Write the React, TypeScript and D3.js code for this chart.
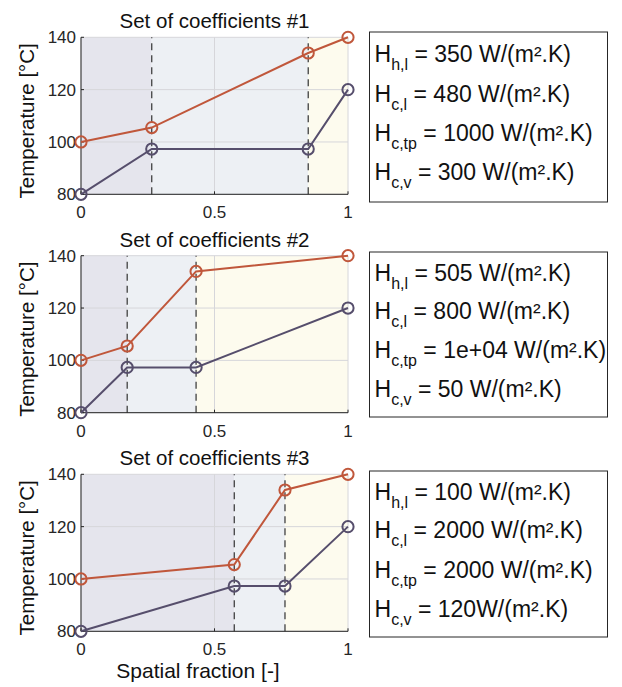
import React from "react";
import * as d3 from "d3";

// ---------- data ----------
const panelTitles = ["Set of coefficients #1", "Set of coefficients #2", "Set of coefficients #3"];
const xTicks = [0, 0.5, 1];
const yTicks = [80, 100, 120, 140];

// phase boundaries (spatial fraction) for each set
const boundaries1 = [0.265, 0.851];
const boundaries2 = [0.173, 0.431];
const boundaries3 = [0.574, 0.764];
const boundaries = [boundaries1, boundaries2, boundaries3];

// hot and cold stream temperatures at [0, b1, b2, 1]
const hotTemps = [100, 105.5, 134, 140];
const coldTemps = [80, 97.3, 97.3, 120];

// coefficient labels: [subscript, rest]
const coeffs1: [string, string][] = [
  ["h,l", " = 350 W/(m².K)"],
  ["c,l", " = 480 W/(m².K)"],
  ["c,tp", " = 1000 W/(m².K)"],
  ["c,v", " = 300 W/(m².K)"],
];
const coeffs2: [string, string][] = [
  ["h,l", " = 505 W/(m².K)"],
  ["c,l", " = 800 W/(m².K)"],
  ["c,tp", " = 1e+04 W/(m².K)"],
  ["c,v", " = 50 W/(m².K)"],
];
const coeffs3: [string, string][] = [
  ["h,l", " = 100 W/(m².K)"],
  ["c,l", " = 2000 W/(m².K)"],
  ["c,tp", " = 2000 W/(m².K)"],
  ["c,v", " = 120W/(m².K)"],
];
const coeffSets = [coeffs1, coeffs2, coeffs3];

// ---------- layout / style ----------
const W = 622;
const H = 687;
const plotLeft = 81;
const plotRight = 348;
const plotTops = [37.3, 255.7, 474.3];
const plotH = 157;
const boxTops = [32, 252, 471];
const boxBottoms = [202, 417, 637];
const boxLeft = 369.5;
const boxRight = 607.5;
const lineOffsets = [[30, 70, 109, 148], [29, 67, 106, 145], [29, 67, 107, 146]];

const FONT = "'Liberation Sans', Arial, Helvetica, sans-serif";
const HOT = "#c0573b";
const COLD = "#564e6c";
const AXIS = "#262626";
const regionFills = ["#e5e5ed", "#edf0f4", "#fdfbee"];

function Panel({ i }: { i: number }) {
  const top = plotTops[i];
  const x = d3.scaleLinear().domain([0, 1]).range([plotLeft, plotRight]);
  const y = d3.scaleLinear().domain([80, 140]).range([top + plotH, top]);
  const b = boundaries[i];
  const xs = [0, b[0], b[1], 1];
  const edges = [0, b[0], b[1], 1];
  const line = d3
    .line<[number, number]>()
    .x((d) => x(d[0]))
    .y((d) => y(d[1]));
  const hot: [number, number][] = xs.map((v, k) => [v, hotTemps[k]]);
  const cold: [number, number][] = xs.map((v, k) => [v, coldTemps[k]]);

  return (
    <g>
      {[0, 1, 2].map((k) => (
        <rect
          key={k}
          x={x(edges[k])}
          y={y(140)}
          width={x(edges[k + 1]) - x(edges[k])}
          height={y(80) - y(140)}
          fill={regionFills[k]}
        />
      ))}
      {xTicks.map((t) => (
        <line key={"gx" + t} x1={x(t)} x2={x(t)} y1={y(80)} y2={y(140)} stroke="#d6d6da" strokeWidth={1} />
      ))}
      {yTicks.map((t) => (
        <line key={"gy" + t} x1={x(0)} x2={x(1)} y1={y(t)} y2={y(t)} stroke="#d6d6da" strokeWidth={1} />
      ))}
      {b.map((v, k) => (
        <line
          key={"d" + k}
          x1={x(v)}
          x2={x(v)}
          y1={y(80)}
          y2={y(140)}
          stroke="#333"
          strokeWidth={1.2}
          strokeDasharray="7,5"
        />
      ))}
      <line x1={x(0)} x2={x(0)} y1={y(80)} y2={y(140)} stroke={AXIS} strokeWidth={1} />
      <line x1={x(0)} x2={x(1)} y1={y(80)} y2={y(80)} stroke={AXIS} strokeWidth={1} />
      {yTicks.map((t) => (
        <g key={"ty" + t}>
          <line x1={x(0)} x2={x(0) + 3} y1={y(t)} y2={y(t)} stroke={AXIS} />
          <text x={x(0) - 5} y={y(t) + 6} textAnchor="end" fontSize={17} fontFamily={FONT} fill={AXIS}>
            {t}
          </text>
        </g>
      ))}
      {xTicks.map((t) => (
        <g key={"tx" + t}>
          <line x1={x(t)} x2={x(t)} y1={y(80)} y2={y(80) - 3} stroke={AXIS} />
          <text x={x(t)} y={y(80) + 24} textAnchor="middle" fontSize={17} fontFamily={FONT} fill={AXIS}>
            {d3.format("")(t)}
          </text>
        </g>
      ))}
      <path d={line(hot) || ""} fill="none" stroke={HOT} strokeWidth={2} />
      <path d={line(cold) || ""} fill="none" stroke={COLD} strokeWidth={2} />
      {hot.map((d, k) => (
        <circle key={"h" + k} cx={x(d[0])} cy={y(d[1])} r={5.6} fill="none" stroke={HOT} strokeWidth={2} />
      ))}
      {cold.map((d, k) => (
        <circle key={"c" + k} cx={x(d[0])} cy={y(d[1])} r={5.6} fill="none" stroke={COLD} strokeWidth={2} />
      ))}
      <text
        x={(plotLeft + plotRight) / 2}
        y={top - 9}
        textAnchor="middle"
        fontSize={20.5}
        fontFamily={FONT}
        fill="#111"
      >
        {panelTitles[i]}
      </text>
      <text
        transform={`translate(34, ${top + plotH / 2 + 5}) rotate(-90)`}
        textAnchor="middle"
        fontSize={20.5}
        fontFamily={FONT}
        fill="#111"
      >
        Temperature [°C]
      </text>
      <rect
        x={boxLeft}
        y={boxTops[i]}
        width={boxRight - boxLeft}
        height={boxBottoms[i] - boxTops[i]}
        fill="#fff"
        stroke="#262626"
        strokeWidth={1}
      />
      {coeffSets[i].map((c, k) => (
        <text
          key={"cf" + k}
          x={boxLeft + 5}
          y={boxTops[i] + lineOffsets[i][k]}
          fontSize={23}
          fontFamily={FONT}
          fill="#111"
        >
          H
          <tspan fontSize={16} dy={8}>
            {c[0]}
          </tspan>
          <tspan dy={-8}>{c[1]}</tspan>
        </text>
      ))}
    </g>
  );
}

export default function App() {
  return (
    <svg
      width={W}
      height={H}
      viewBox={`0 0 ${W} ${H}`}
      style={{ position: "absolute", left: 0, top: 0, background: "#fff" }}
    >
      <rect width={W} height={H} fill="#fff" />
      {[0, 1, 2].map((i) => (
        <Panel key={i} i={i} />
      ))}
      <text x={198} y={678} textAnchor="middle" fontSize={21} fontFamily={FONT} fill="#111">
        Spatial fraction [-]
      </text>
    </svg>
  );
}
